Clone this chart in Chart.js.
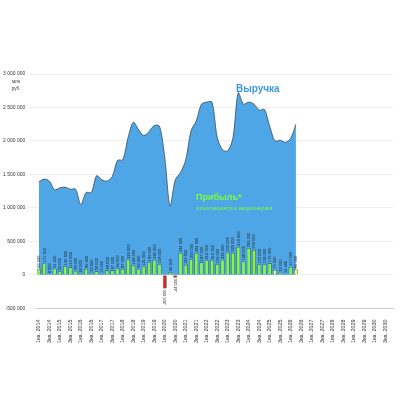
<!DOCTYPE html>
<html><head><meta charset="utf-8">
<script src="https://cdn.jsdelivr.net/npm/chart.js@4"></script>
<style>html,body{margin:0;padding:0;background:#fff}#w{width:400px;height:400px}</style>
</head><body><div id="w"><canvas id="c"></canvas></div>
<script>
const quarters = [];
for (let y = 2014; y <= 2030; y++) for (let q = 1; q <= 4; q++) quarters.push(q + 'кв. ' + y);
const revenue = [1390000,1430000,1400000,1270000,1300000,1310000,1280000,1280000,1050000,1230000,1230000,1480000,1420000,1400000,1470000,1710000,1720000,2050000,2280000,2170000,2080000,2140000,2230000,2220000,1750000,1030000,1420000,1530000,1720000,2150000,2300000,2550000,2580000,2580000,2050000,1870000,1850000,2050000,2720000,2550000,2580000,2550000,2460000,2470000,2220000,2000000,2010000,1980000,2040000,2250000];
const profit = [90000,171000,8000,91000,54000,130000,113000,58000,24000,89000,30000,52000,13000,68000,67000,94000,87000,226000,144000,90000,121000,189000,225000,158000,-205000,40000,-44000,324000,149000,233000,324000,187000,216000,216000,159000,222000,333000,329000,419000,198000,399000,374000,155000,158000,176000,75000,32000,14000,117000,85000];
const profitKind = profit.map((v,i)=> v<0 ? 'neg' : ([45,49].includes(i) ? 'est' : 'pos'));
const yTicks = [-500000,0,500000,1000000,1500000,2000000,2500000,3000000];
const fmt = v => Math.round(v).toString().replace(/\B(?=(\d{3})+(?!\d))/g,' ');

const labelPlugin = {
  id:'lbl',
  afterDatasetsDraw(chart){
    const ctx = chart.ctx, meta = chart.getDatasetMeta(1);
    ctx.save(); ctx.font = '4px "Liberation Sans"'; ctx.fillStyle = '#222';
    meta.data.forEach((bar,i)=>{
      const v = profit[i];
      ctx.save(); ctx.translate(bar.x+1.5, v>=0 ? bar.y-1 : bar.y+1);
      ctx.rotate(-Math.PI/2);
      ctx.textAlign = v>=0 ? 'left':'right';
      ctx.fillText(fmt(v),0,0); ctx.restore();
    });
    ctx.font = 'bold 10px "Liberation Sans"'; ctx.fillStyle='#3d9be0';
    ctx.fillText('Выручка',236,92);
    ctx.font = 'bold 9px "Liberation Sans"'; ctx.fillStyle='#7cfc3c';
    ctx.fillText('Прибыль*',196,200);
    ctx.font = '6px "Liberation Sans"';
    ctx.fillText('относящаяся к акционерам',196,210);
    ctx.fillStyle='#333'; ctx.font='4.5px "Liberation Sans"'; ctx.textAlign='center';
    ctx.fillText('млн',16,83); ctx.fillText('руб.',16,90);
    ctx.restore();
  }
};

new Chart(document.getElementById('c'),{
  data:{labels:quarters,datasets:[
    {type:'line',label:'Выручка',data:revenue,fill:'origin',backgroundColor:'#4ea6e6',borderColor:'#3a4a5a',borderWidth:0.8,pointRadius:0,tension:0.3,order:2},
    {type:'bar',label:'Прибыль',data:profit,
     backgroundColor:profitKind.map(k=>k==='neg'?'#d02a2a':k==='est'?'#f2f27a':'#86f250'),
     borderColor:'#2d4a20',borderWidth:0.6,barPercentage:0.8,categoryPercentage:0.95,order:1}
  ]},
  options:{responsive:true,maintainAspectRatio:false,animation:false,
    layout:{padding:{left:0,right:2,top:74,bottom:54}},
    plugins:{legend:{display:false},tooltip:{enabled:false}},
    scales:{
      x:{offset:true,grid:{display:false},border:{color:'#ccc'},
        ticks:{autoSkip:false,maxRotation:90,minRotation:90,font:{size:5.5,family:'Liberation Sans'},color:'#333',padding:3,
          callback:(v,i)=> i%2===0 ? quarters[i] : ''}},
      y:{min:-500000,max:3000000,afterBuildTicks:s=>{s.ticks=yTicks.map(v=>({value:v}));},
        grid:{color:'#e3e3e3',lineWidth:0.6},border:{display:false},
        ticks:{font:{size:5,family:'Liberation Sans'},color:'#333',callback:v=>fmt(v),padding:3}}
    }},
  plugins:[labelPlugin]
});
</script></body></html>
